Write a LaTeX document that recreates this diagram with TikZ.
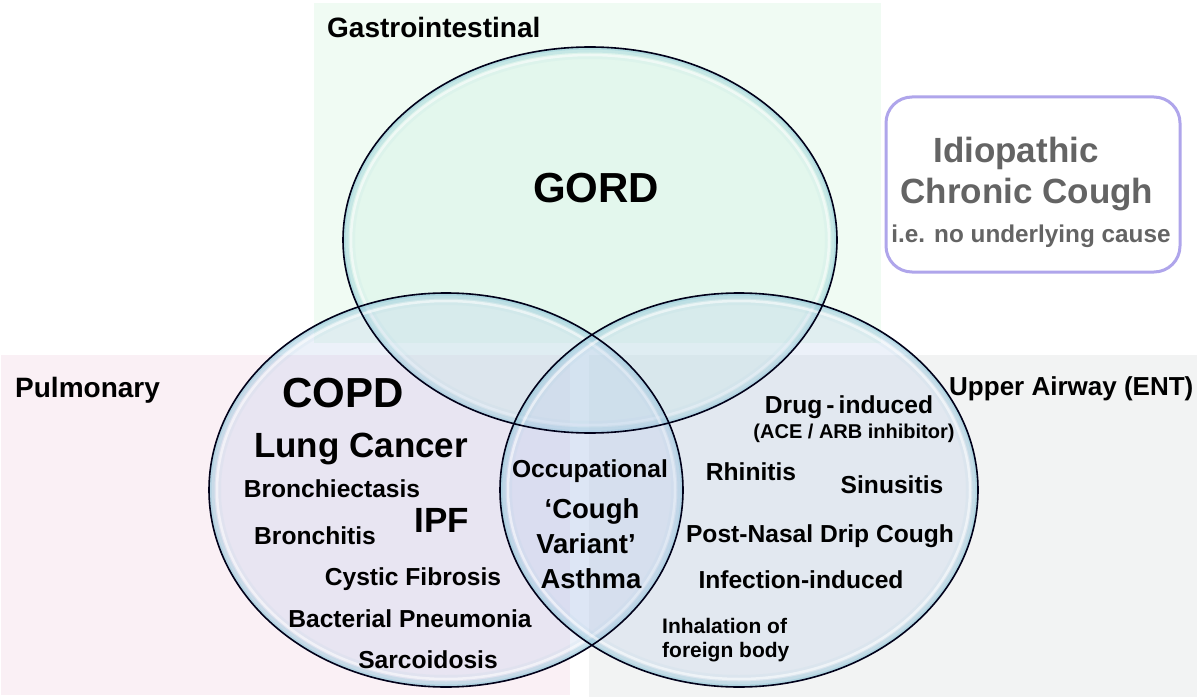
\documentclass[tikz,border=0pt]{standalone}
\usepackage{fontspec}
\setmainfont{Liberation Sans}
\newcommand\myfs[1]{\fontsize{#1}{#1}\selectfont}
\definecolor{bggreen}{RGB}{240,251,243}
\definecolor{bgpink}{RGB}{250,240,245}
\definecolor{bggray}{RGB}{242,243,243}
\definecolor{fillgi}{RGB}{200,240,225}
\definecolor{fillbl}{RGB}{180,200,235}
\definecolor{rimcol}{RGB}{140,200,215}
\definecolor{boxcol}{RGB}{175,165,235}
\definecolor{idiogray}{RGB}{100,100,100}
\tikzset{
  lbl/.style={inner sep=0pt, anchor=base, text=black},
  lbls/.style={lbl, font=\bfseries\myfs{24.6}},
  lblm/.style={lbl, font=\bfseries\myfs{35}},
  lblb/.style={lbl, font=\bfseries\myfs{42}},
  cat/.style={inner sep=0pt, anchor=base west, font=\bfseries\myfs{28}},
  idio/.style={inner sep=0pt, anchor=base, text=idiogray},
  ellline/.style={draw=black!90!blue, line width=1.6pt},
}
\newcommand\glassell[5]{%
  \begin{scope}
    \clip #1 ellipse [x radius=#2, y radius=#3];
    \fill[#4, fill opacity=#5] #1 ellipse [x radius=#2, y radius=#3];
    \draw[rimcol, line width=24pt, opacity=0.08] #1 ellipse [x radius=#2, y radius=#3];
    \draw[rimcol, line width=11pt, opacity=0.28] #1 ellipse [x radius=#2, y radius=#3];
    \draw[rimcol, line width=5pt, opacity=0.35] #1 ellipse [x radius=#2, y radius=#3];
    \draw[white, line width=2.5pt, opacity=0.55] #1 ellipse [x radius=#2-8, y radius=#3-8];
  \end{scope}}
\begin{document}
\begin{tikzpicture}[x=1pt,y=-1pt]
\useasboundingbox (0,0) rectangle (1200,698);
\fill[white] (0,0) rectangle (1200,698);
% background panels
\fill[bggreen] (314,3) rectangle (881,343);
\fill[bgpink] (1,355) rectangle (570,695);
\fill[bggray] (589,355) rectangle (1197,697);
% ellipses
\glassell{(590,240)}{247}{193}{fillgi}{0.3}
\glassell{(446,490)}{237}{197}{fillbl}{0.25}
\glassell{(739,490)}{239}{197}{fillbl}{0.25}
\draw[ellline] (590,240) ellipse [x radius=247, y radius=193];
\draw[ellline] (446,490) ellipse [x radius=237, y radius=197];
\draw[ellline] (739,490) ellipse [x radius=239, y radius=197];
% idiopathic box
\draw[boxcol, line width=3pt, rounded corners=26pt] (886,97) rectangle (1180,272);
\node[idio, font=\bfseries\myfs{35}] (idio1) at (1016,163) {Idiopathic};
\node[idio, font=\bfseries\myfs{35}] (idio2) at (1027,204) {Chronic Cough};
\node[idio, font=\bfseries\myfs{24.3}] (idio3) at (1031,242) {i.e. no underlying cause};
% category labels
\node[cat] (gi) at (327,38) {Gastrointestinal};
\node[cat] (pulm) at (15,397) {Pulmonary};
\node[cat, font=\bfseries\myfs{26}] (ent) at (949,395) {Upper Airway (ENT)};
% GORD
\node[lblb] (gord) at (596,203) {GORD};
% pulmonary
\node[lblb] (copd) at (343,407) {COPD};
\node[lblm] (lung) at (361,457) {Lung Cancer};
\node[lbls] (bronchiec) at (332,497) {Bronchiectasis};
\node[lblm] (ipf) at (442,532) {IPF};
\node[lbls] (bronchit) at (315,544) {Bronchitis};
\node[lbls] (cf) at (413,585) {Cystic Fibrosis};
\node[lbls] (bact) at (410,627) {Bacterial Pneumonia};
\node[lbls] (sarc) at (428,668) {Sarcoidosis};
% overlap
\node[lbls] (occ) at (590,477) {Occupational};
\node[lbl, font=\bfseries\myfs{27.5}] (cva1) at (592,518) {‘Cough};
\node[lbl, font=\bfseries\myfs{27.5}] (cva2) at (586,553) {Variant’};
\node[lbl, font=\bfseries\myfs{27.5}] (cva3) at (591,588) {Asthma};
% ENT
\node[lbls] (drug) at (849,413) {Drug\,-\,induced};
\node[lbl, font=\bfseries\myfs{20}] (ace) at (854,438) {(ACE / ARB inhibitor)};
\node[lbls] (rhin) at (751,480) {Rhinitis};
\node[lbls] (sinus) at (892,493) {Sinusitis};
\node[lbls] (pnd) at (820,542) {Post-Nasal Drip Cough};
\node[lbls] (infec) at (801,588) {Infection-induced};
\node[inner sep=0pt, anchor=base west, font=\bfseries\myfs{21}] (inh1) at (662,633) {Inhalation of};
\node[inner sep=0pt, anchor=base west, font=\bfseries\myfs{21}] (inh2) at (662,657) {foreign body};
\end{tikzpicture}
\end{document}
